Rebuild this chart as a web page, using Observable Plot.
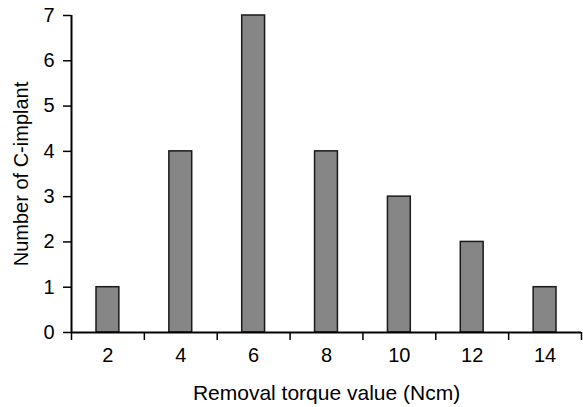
<!DOCTYPE html>
<html>
<head>
<meta charset="utf-8">
<script src="https://cdn.jsdelivr.net/npm/d3@7"></script>
<script src="https://cdn.jsdelivr.net/npm/@observablehq/plot@0.6"></script>
<style>
  html, body { margin: 0; padding: 0; background: #fff; }
  #chart svg { display: block; }
  #chart svg text { font-size: 20px; fill: #000; }
  #chart svg [aria-label="x-axis label"] text { font-size: 21px; }
</style>
</head>
<body>
<div id="chart"></div>
<script>
const torqueValues = [2, 4, 6, 8, 10, 12, 14];
const implantCounts = [1, 4, 7, 4, 3, 2, 1];
const xTickLabels = [2, 4, 6, 8, 10, 12, 14];
const xBoundaries = [1, 3, 5, 7, 9, 11, 13, 15];
const yTicks = [0, 1, 2, 3, 4, 5, 6, 7];
const categoryStep = 2;

const data = torqueValues.map((t, i) => ({torque: t, count: implantCounts[i]}));

const chart = Plot.plot({
  width: 583,
  height: 407,
  marginLeft: 71,
  marginRight: 2,
  marginTop: 15,
  marginBottom: 75,
  style: {fontFamily: "'Liberation Sans', Arial, sans-serif", fontSize: "20px", color: "#000", background: "#fff"},
  x: {type: "linear", domain: [1, 15]},
  y: {domain: [0, 7]},
  marks: [
    Plot.rectY(data, {
      x1: d => d.torque - categoryStep / 2,
      x2: d => d.torque + categoryStep / 2,
      y1: 0,
      y2: "count",
      insetLeft: 25,
      insetRight: 25,
      fill: "#868686",
      stroke: "#1a1a1a",
      strokeWidth: 1.5
    }),
    Plot.axisY({
      ticks: yTicks,
      tickFormat: d3.format("d"),
      tickSize: 8,
      tickPadding: 9,
      strokeWidth: 1.5,
      label: null
    }),
    Plot.axisY({
      ticks: [],
      label: "Number of C-implant",
      labelAnchor: "center",
      labelOffset: 58,
      labelArrow: "none"
    }),
    Plot.axisX({
      ticks: xTickLabels,
      tickSize: 0,
      tickPadding: 15,
      label: null
    }),
    Plot.axisX({
      ticks: [],
      label: "Removal torque value (Ncm)",
      labelAnchor: "center",
      labelOffset: 67,
      labelArrow: "none"
    }),
    Plot.axisX({
      ticks: xBoundaries,
      tickSize: 8,
      tickFormat: () => "",
      strokeWidth: 1.5,
      label: null
    }),
    Plot.ruleY([0], {stroke: "#000", strokeWidth: 2}),
    Plot.ruleX([1], {y1: 0, y2: 7, stroke: "#000", strokeWidth: 2})
  ]
});

document.getElementById("chart").appendChild(chart);
</script>
</body>
</html>
